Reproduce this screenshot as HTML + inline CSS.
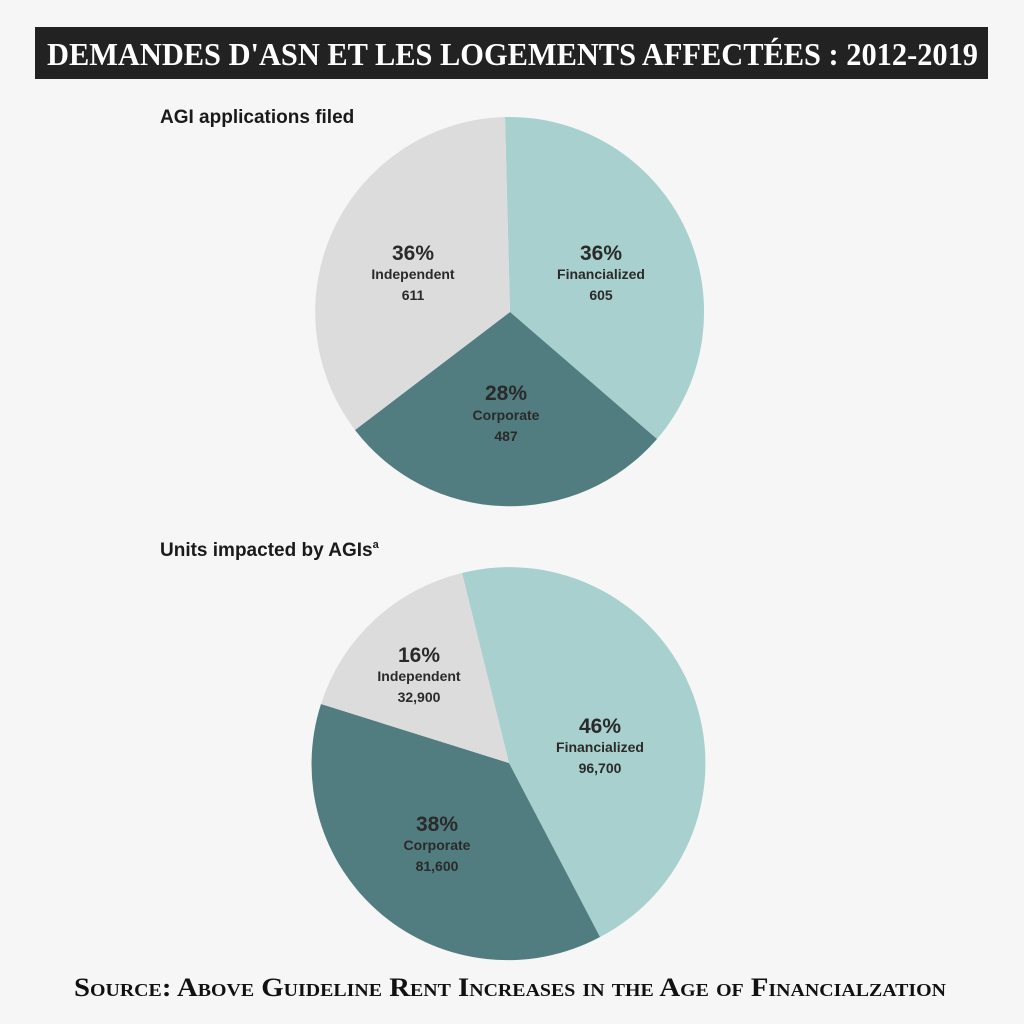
<!DOCTYPE html>
<html><head><meta charset="utf-8"><style>
html,body{margin:0;padding:0;background:#f6f6f6;}
svg{display:block}
</style></head><body>
<svg width="1024" height="1024" xmlns="http://www.w3.org/2000/svg">
<rect width="1024" height="1024" fill="#f6f6f6"/>
<rect x="35" y="27" width="953" height="52" fill="#222222"/>
<text x="47" y="65" font-family="Liberation Serif, serif" font-weight="bold" font-size="32" fill="#ffffff" textLength="931" lengthAdjust="spacingAndGlyphs">DEMANDES D'ASN ET LES LOGEMENTS AFFECTÉES : 2012-2019</text>
<text x="160" y="123" font-family="Liberation Sans, sans-serif" font-weight="bold" font-size="19" fill="#1a1a1a">AGI applications filed</text>
<path d="M510,312 L505,117 A195,195 0 0 1 657,439 Z" fill="#a8d0cf"/>
<path d="M510,312 L657,439 A195,195 0 0 1 355,430 Z" fill="#517d81"/>
<path d="M510,312 L355,430 A195,195 0 0 1 505,117 Z" fill="#dcdcdc"/>
<g font-family="Liberation Sans, sans-serif" font-weight="bold" fill="#2a2a2a" text-anchor="middle">
<text x="413" y="260" font-size="21">36%</text>
<text x="413" y="279" font-size="14">Independent</text>
<text x="413" y="300" font-size="14">611</text>
<text x="601" y="260" font-size="21">36%</text>
<text x="601" y="279" font-size="14">Financialized</text>
<text x="601" y="300" font-size="14">605</text>
<text x="506" y="400" font-size="21">28%</text>
<text x="506" y="420" font-size="14">Corporate</text>
<text x="506" y="441" font-size="14">487</text>
</g>
<text x="160" y="556" font-family="Liberation Sans, sans-serif" font-weight="bold" font-size="19" fill="#1a1a1a">Units impacted by AGIs<tspan font-size="11" dy="-8">a</tspan></text>
<path d="M509,763 L462,573 A196,196 0 0 1 600,937 Z" fill="#a8d0cf"/>
<path d="M509,763 L600,937 A196,196 0 0 1 321,704 Z" fill="#517d81"/>
<path d="M509,763 L321,704 A196,196 0 0 1 462,573 Z" fill="#dcdcdc"/>
<g font-family="Liberation Sans, sans-serif" font-weight="bold" fill="#2a2a2a" text-anchor="middle">
<text x="419" y="662" font-size="21">16%</text>
<text x="419" y="681" font-size="14">Independent</text>
<text x="419" y="702" font-size="14">32,900</text>
<text x="600" y="733" font-size="21">46%</text>
<text x="600" y="752" font-size="14">Financialized</text>
<text x="600" y="773" font-size="14">96,700</text>
<text x="437" y="831" font-size="21">38%</text>
<text x="437" y="850" font-size="14">Corporate</text>
<text x="437" y="871" font-size="14">81,600</text>
</g>
<text x="74" y="996" font-family="Liberation Serif, serif" font-weight="bold" font-size="26" fill="#111" style="font-variant:small-caps" textLength="872" lengthAdjust="spacingAndGlyphs">Source: Above Guideline Rent Increases in the Age of Financialzation</text>
</svg>
</body></html>
